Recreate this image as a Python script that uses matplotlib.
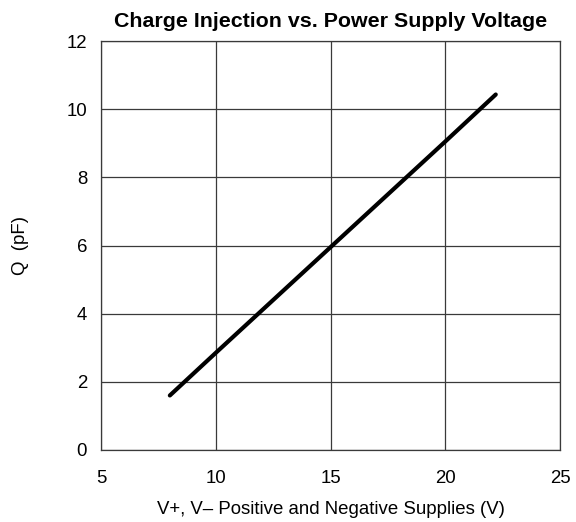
import matplotlib
matplotlib.use("Agg")
import matplotlib.pyplot as plt

plt.rcParams['font.family'] = ['Liberation Sans', 'DejaVu Sans']

supply_v = [8.0, 10.0, 15.0, 20.0, 22.2]
charge_pf = [1.6, 2.85, 5.95, 9.05, 10.43]
x_ticks = [5, 10, 15, 20, 25]
y_ticks = [0, 2, 4, 6, 8, 10, 12]

fig = plt.figure(figsize=(5.76, 5.22), dpi=100)
ax = fig.add_axes([101/576, 72/522, 459/576, 409/522])

ax.plot(supply_v, charge_pf, color='black', lw=3.0, solid_capstyle='round', zorder=3)
ax.set_xlim(5, 25)
ax.set_ylim(0, 12)
ax.set_xticks(x_ticks)
ax.set_yticks(y_ticks)
ax.grid(True, color='#3a3a3a', lw=0.9)
for s in ax.spines.values():
    s.set_color('#3a3a3a')
    s.set_linewidth(0.9)
ax.tick_params(length=0, labelsize=13.4)
ax.tick_params(axis='y', pad=10)
ax.tick_params(axis='x', pad=14.6)
ax.set_xlabel('V+, V\u2013 Positive and Negative Supplies (V)', fontsize=13.4, labelpad=10)
ax.set_ylabel('Q  (pF)', fontsize=13.4, labelpad=27)
ax.set_title('Charge Injection vs. Power Supply Voltage', fontsize=15.4, fontweight='bold', pad=10)

fig.savefig('out.png', dpi=100)
